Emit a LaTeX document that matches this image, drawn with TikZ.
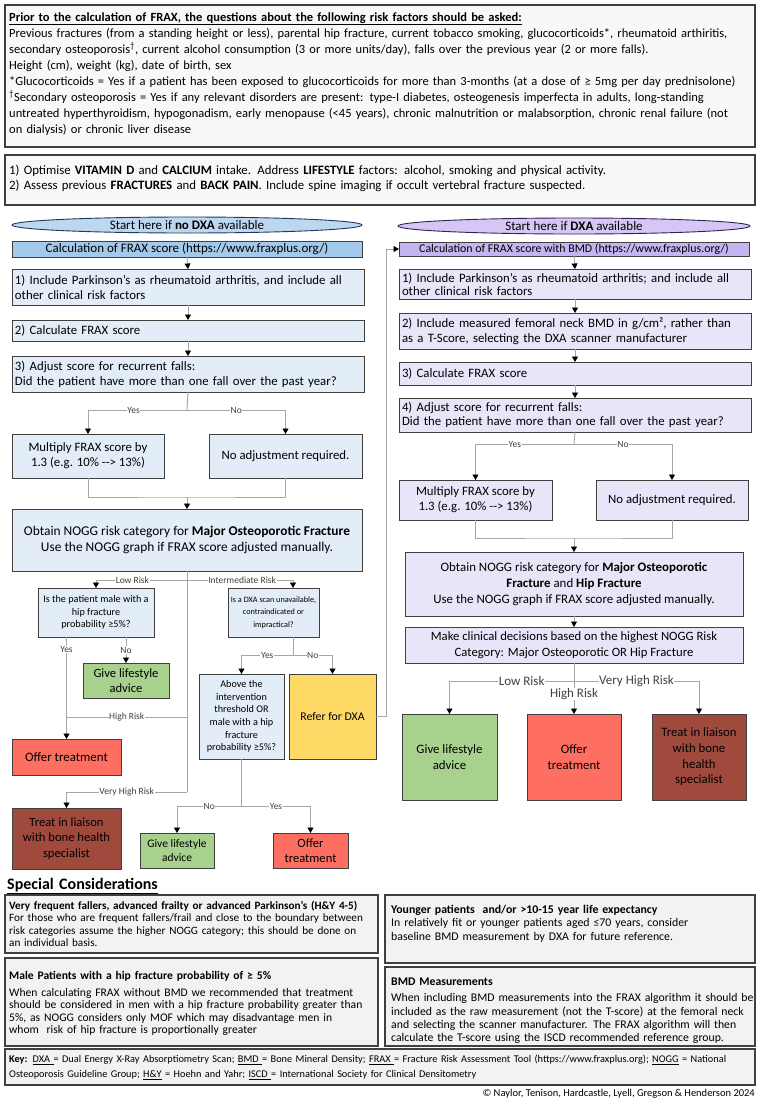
\documentclass[tikz,border=0pt]{standalone}
\usepackage{fontspec}
\setmainfont{Carlito}
\usetikzlibrary{arrows.meta,shapes.geometric,calc}
\definecolor{boxline}{HTML}{404040}
\definecolor{topfill}{HTML}{F8F8F8}
\definecolor{specfill}{HTML}{F2F2F2}
\definecolor{bluehdr}{HTML}{A4CAEB}
\definecolor{blueell}{HTML}{BDD7EE}
\definecolor{bluestep}{HTML}{E2EDF8}
\definecolor{ellblue}{HTML}{1F3864}
\definecolor{purphdr}{HTML}{C5B4F2}
\definecolor{purpell}{HTML}{D5C6F6}
\definecolor{purpstep}{HTML}{E9E5F9}
\definecolor{ellpurp}{HTML}{2E2452}
\definecolor{gfill}{HTML}{A9D18E}
\definecolor{rfill}{HTML}{FF6F61}
\definecolor{bfill}{HTML}{A04A3E}
\definecolor{yfill}{HTML}{FFD966}
\definecolor{cline}{HTML}{A6A6A6}
\definecolor{lbltext}{HTML}{404040}
\newcommand\fs[2]{\fontsize{#1}{#2}\selectfont}
% left-aligned box with text width
\newcommand\bx[7]{%
  \pgfmathsetmacro\bxw{(#5)-(#3)}%
  \pgfmathsetmacro\bxh{(#6)-(#4)}%
  \pgfmathsetmacro\bxt{(#5)-(#3)-4}%
  \node[box,#2,anchor=north west,minimum width=\bxw pt,minimum height=\bxh pt,text width=\bxt pt] (#1) at (#3,#4) {#7};}
% centred box, lines broken by hand
\newcommand\bc[7]{%
  \pgfmathsetmacro\bxw{(#5)-(#3)}%
  \pgfmathsetmacro\bxh{(#6)-(#4)}%
  \node[box,#2,align=center,inner xsep=0pt,anchor=north west,minimum width=\bxw pt,minimum height=\bxh pt] (#1) at (#3,#4) {#7};}
\begin{document}
\begin{tikzpicture}[x=1pt,y=-1pt,
  box/.style={draw=boxline,line width=1pt,outer sep=0pt,inner xsep=2pt,inner ysep=0pt},
  bigbox/.style={draw=boxline,line width=1.4pt,outer sep=0pt,inner sep=0pt},
  txt/.style={anchor=base west,inner sep=0pt,align=left},
  lstep/.style={fill=bluestep,align=left,font=\fs{12.8}{14.8}},
  rstep/.style={fill=purpstep,align=left,font=\fs{12.8}{14.8}},
  padl/.style={inner xsep=3pt},
  qbox/.style={fill=bluestep,font=\fs{10.2}{12.5}},
  green/.style={fill=gfill},
  red/.style={fill=rfill},
  brown/.style={fill=bfill},
  conn/.style={draw=cline,line width=0.9pt},
  arr/.style={conn,-{Triangle[length=5.5pt,width=6pt,color=black]}},
  lbl/.style={fill=white,inner sep=0.6pt,text=lbltext,font=\fs{9.5}{10}},
  lblR/.style={fill=white,inner sep=0.6pt,text=lbltext,font=\fs{13}{14}},
  ell/.style={ellipse,line width=0.9pt,minimum height=16pt,inner sep=0pt,font=\fs{13}{14}}
]
\useasboundingbox[fill=white] (0,0) rectangle (761,1101);

% ---------- top boxes ----------
\node[bigbox,fill=topfill,anchor=north west,minimum width=750pt,minimum height=142pt] (T) at (5,5) {};
\node[txt,text width=745pt,font=\fs{12.5}{16.05}] (Tt) at ($(T.north west)+(4,16)$) {%
\underline{\textbf{Prior to the calculation of FRAX, the questions about the following risk factors should be asked:}}\\
Previous fractures (from a standing height or less), parental hip fracture, current tobacco smoking, glucocorticoids*, rheumatoid arthiritis,\\
secondary osteoporosis\textsuperscript{†}, current alcohol consumption (3 or more units/day), falls over the previous year (2 or more falls).\\
Height (cm), weight (kg), date of birth, sex\\\relax
*Glucocorticoids = Yes if a patient has been exposed to glucocorticoids for more than 3-months (at a dose of ≥ 5mg per day prednisolone)\\
\textsuperscript{†}Secondary osteoporosis = Yes if any relevant disorders are present: type-I diabetes, osteogenesis imperfecta in adults, long-standing\\
untreated hyperthyroidism, hypogonadism, early menopause (<45 years), chronic malnutrition or malabsorption, chronic renal failure (not\\
on dialysis) or chronic liver disease};

\node[bigbox,fill=topfill,anchor=north west,minimum width=750pt,minimum height=50pt] (B) at (5,155) {};
\node[txt,text width=745pt,font=\fs{12.8}{15}] (Bt) at ($(B.north west)+(4,19)$) {%
1) Optimise \textbf{VITAMIN D} and \textbf{CALCIUM} intake. Address \textbf{LIFESTYLE} factors: alcohol, smoking and physical activity.\\
2) Assess previous \textbf{FRACTURES} and \textbf{BACK PAIN}. Include spine imaging if occult vertebral fracture suspected.};

% ---------- left column ----------
\node[ell,draw=ellblue,fill=blueell,minimum width=350pt] (L0) at (187,225) {Start here if \textbf{no DXA} available};
\bc{L1}{fill=bluehdr,font=\fs{13}{14}}{12}{241}{362}{257}{Calculation of FRAX score (https://www.fraxplus.org/)}
\bx{L2}{lstep,padl}{12}{269}{362}{305}{1) Include Parkinson's as rheumatoid arthritis, and include all\\ other clinical risk factors}
\bx{L3}{lstep,padl}{12}{320}{362}{341}{2) Calculate FRAX score}
\bx{L4}{lstep,padl}{12}{356}{362}{392}{3) Adjust score for recurrent falls:\\ Did the patient have more than one fall over the past year?}
\bc{L5}{lstep}{12}{434}{164}{478}{Multiply FRAX score by\\ 1.3 (e.g. 10\% -{}-{}> 13\%)}
\bc{L6}{lstep}{209}{434}{362}{478}{No adjustment required.}
\bc{L7}{fill=bluestep,font=\fs{13.4}{16.5}}{12}{509}{362}{571}{Obtain NOGG risk category for \textbf{Major Osteoporotic Fracture}\\ Use the NOGG graph if FRAX score adjusted manually.}
\bc{L8}{qbox}{38}{588}{154}{637}{Is the patient male with a\\ hip fracture\\ probability ≥5\%?}
\bc{L9}{qbox,font=\fs{8.2}{12.5}}{228}{588}{319}{637}{Is a DXA scan unavailable,\\ contraindicated or\\ impractical?}
\bc{L10}{green,font=\fs{12.6}{15}}{83}{663}{169}{698}{Give lifestyle\\ advice}
\bc{L11}{qbox,font=\fs{10.2}{12.7}}{199}{674}{284}{759}{Above the\\ intervention\\ threshold OR\\ male with a hip\\ fracture\\ probability ≥5\%?}
\bc{L12}{fill=yfill,font=\fs{11.8}{14}}{289}{674}{376}{759}{Refer for DXA}
\bc{L13}{red,font=\fs{12.9}{15}}{12}{739}{121}{775}{Offer treatment}
\bc{L14}{brown,font=\fs{12.6}{15.7}}{12}{808}{121}{869}{Treat in liaison\\ with bone health\\ specialist}
\bc{L15}{green,font=\fs{11.5}{14.5}}{140}{833}{214}{868}{Give lifestyle\\ advice}
\bc{L16}{red,font=\fs{12.6}{15}}{273}{833}{348}{868}{Offer\\ treatment}

\draw[arr] (L1.south) -- (L2.north);
\draw[arr] (L2.south) -- (L3.north);
\draw[arr] (L3.south) -- (L4.north);
\coordinate (j1) at (187,410);
\draw[conn] (L4.south) -- (j1);
\draw[arr] (j1) -| node[lbl,pos=.27]{Yes} (L5.north);
\draw[arr] (j1) -| node[lbl,pos=.25]{No} (L6.north);
\coordinate (j2) at (187,497);
\draw[conn] (L5.south) |- (j2) -| (L6.south);
\draw[arr] (j2) -- (L7.north);
\coordinate (j3) at (187,580);
\draw[conn] (L7.south) -- (j3);
\draw[arr] (j3) -| node[lbl,pos=.3]{Low Risk} (L8.north);
\coordinate (L9in) at ($(L9.north west)+(65,0)$);
\coordinate (L9out) at ($(L9.south west)+(65,0)$);
\draw[arr] (j3) -| node[lbl,pos=.26]{Intermediate Risk} (L9in);
\draw[arr] (L8.south -| L13.north) -- node[lbl,pos=.12]{Yes} (L13.north);
\draw[arr] (L8.south -| L10.north) -- node[lbl]{No} (L10.north);
\coordinate (j4) at (187,717);
\coordinate (j5) at (187,792);
\draw[conn] (j3) -- (j5);
\draw[conn] (j4) -- node[lbl]{High Risk} (j4 -| L13.north);
\draw[arr] (j5) -| node[lbl,pos=.25]{Very High Risk} (L14.north);
\coordinate (j6) at (293,655);
\draw[conn] (L9out) -- (j6);
\draw[arr] (j6) -| node[lbl,pos=.25]{Yes} (L11.north);
\draw[arr] (j6) -| node[lbl,pos=.25]{No} (L12.north);
\coordinate (j7) at (241.5,806);
\draw[conn] (L11.south) -- (j7);
\draw[arr] (j7) -| node[lbl,pos=.25]{No} (L15.north);
\draw[arr] (j7) -| node[lbl,pos=.25]{Yes} (L16.north);

% ---------- right column ----------
\node[ell,draw=ellpurp,fill=purpell,minimum width=352pt] (R0) at (574,226) {Start here if \textbf{DXA} available};
\bc{R1}{fill=purphdr,font=\fs{11.9}{13}}{399}{242}{749}{256}{Calculation of FRAX score with BMD (https://www.fraxplus.org/)}
\bx{R2}{rstep,padl,font=\fs{12.8}{13.2}}{399}{269}{749}{299}{1) Include Parkinson's as rheumatoid arthritis; and include all\\ other clinical risk factors}
\bx{R3}{rstep,padl}{399}{313}{749}{349}{2) Include measured femoral neck BMD in g/cm², rather than\\ as a T-Score, selecting the DXA scanner manufacturer}
\bx{R4}{rstep,padl}{399}{362}{749}{385}{3) Calculate FRAX score}
\bx{R5}{rstep,padl,font=\fs{12.8}{14.2}}{399}{398}{749}{432}{4) Adjust score for recurrent falls:\\ Did the patient have more than one fall over the past year?}
\bc{R6}{rstep}{399}{480}{552}{520}{Multiply FRAX score by\\ 1.3 (e.g. 10\% -{}-{}> 13\%)}
\bc{R7}{rstep}{596}{480}{748}{520}{No adjustment required.}
\bc{R8}{fill=purpstep,font=\fs{12.9}{16}}{405}{552}{743}{616}{Obtain NOGG risk category for \textbf{Major Osteoporotic}\\ \textbf{Fracture} and \textbf{Hip Fracture}\\ Use the NOGG graph if FRAX score adjusted manually.}
\bc{R9}{fill=purpstep,font=\fs{12.7}{16}}{405}{627}{743}{663}{Make clinical decisions based on the highest NOGG Risk\\ Category: Major Osteoporotic OR Hip Fracture}
\bc{R10}{green,font=\fs{12.8}{15.7}}{402}{714}{497}{800}{Give lifestyle\\ advice}
\bc{R11}{red,font=\fs{12.8}{15.7}}{527}{714}{621}{800}{Offer\\ treatment}
\bc{R12}{brown,font=\fs{12.8}{15.7}}{652}{714}{746}{800}{Treat in liaison\\ with bone\\ health\\ specialist}

\draw[arr] (L12.east) -- ++(10,0) |- (R1.west);
\draw[arr] (R1.south) -- (R2.north);
\draw[arr] (R2.south) -- (R3.north);
\draw[arr] (R3.south) -- (R4.north);
\draw[arr] (R4.south) -- (R5.north);
\coordinate (k1) at (574,444);
\draw[conn] (R5.south) -- (k1);
\draw[arr] (k1) -| node[lbl,pos=.3]{Yes} (R6.north);
\draw[arr] (k1) -| node[lbl,pos=.25]{No} (R7.north);
\coordinate (k2) at (574,538);
\draw[conn] (R6.south) |- (k2) -| (R7.south);
\draw[arr] (k2) -- (R8.north);
\draw[arr] (R8.south) -- (R9.north);
\coordinate (k3) at (574,681);
\draw[arr] (R9.south) -- node[lblR,pos=.61]{High Risk} (R11.north);
\draw[arr] (k3) -| node[lblR,pos=.21]{Low Risk} (R10.north);
\draw[arr] (k3) -| node[lblR,pos=.25]{Very High Risk} (R12.north);

% ---------- special considerations ----------
\node[txt,text width=300pt,font=\fs{16}{18}\bfseries] (SC) at (7,889) {\underline{Special Considerations}};
\node[bigbox,fill=specfill,anchor=north west,minimum width=373pt,minimum height=58pt] (S1) at (5,895) {};
\node[txt,text width=369pt,font=\fs{11.2}{12.4}] (S1t) at ($(S1.north west)+(4,14.5)$) {%
\textbf{Very frequent fallers, advanced frailty or advanced Parkinson's (H\&Y 4-5)}\\
For those who are frequent fallers/frail and close to the boundary between\\
risk categories assume the higher NOGG category; this should be done on\\
an individual basis.};
\node[bigbox,fill=specfill,anchor=north west,minimum width=373pt,minimum height=88pt] (S2) at (5,958) {};
\node[txt,text width=369pt,font=\fs{11.6}{12.4}] (S2t) at ($(S2.north west)+(4,21.5)$) {%
\textbf{Male Patients with a hip fracture probability of ≥ 5\%}\\[4.3pt]
When calculating FRAX without BMD we recommended that treatment\\
should be considered in men with a hip fracture probability greater than\\
5\%, as NOGG considers only MOF which may disadvantage men in\\
whom \ risk of hip fracture is proportionally greater};
\node[bigbox,fill=specfill,anchor=north west,minimum width=370pt,minimum height=68pt] (S3) at (385,895) {};
\node[txt,text width=366pt,font=\fs{11.8}{13.6}] (S3t) at ($(S3.north west)+(6,18)$) {%
\textbf{Younger patients \ and/or >10-15 year life expectancy}\\
In relatively fit or younger patients aged ≤70 years, consider\\
baseline BMD measurement by DXA for future reference.};
\node[bigbox,fill=specfill,anchor=north west,minimum width=370pt,minimum height=79pt] (S4) at (385,967) {};
\node[txt,text width=366pt,font=\fs{11.75}{13.4}] (S4t) at ($(S4.north west)+(6,18)$) {%
\textbf{BMD Measurements}\\[3.3pt]
When including BMD measurements into the FRAX algorithm it should be\\
included as the raw measurement (not the T-score) at the femoral neck\\
and selecting the scanner manufacturer. The FRAX algorithm will then\\
calculate the T-score using the ISCD recommended reference group.};
\node[bigbox,fill=specfill,anchor=north west,minimum width=750pt,minimum height=36pt] (K) at (5,1049) {};
\node[txt,text width=745pt,font=\fs{10.3}{15}] (Kt) at ($(K.north west)+(4,13.5)$) {%
\textbf{Key:} \underline{DXA }= Dual Energy X-Ray Absorptiometry Scan; \underline{BMD }= Bone Mineral Density; \underline{FRAX }= Fracture Risk Assessment Tool (https://www.fraxplus.org); \underline{NOGG} = National\\
Osteoporosis Guideline Group; \underline{H\&Y} = Hoehn and Yahr; \underline{ISCD }= International Society for Clinical Densitometry};
\node[anchor=base east,inner sep=0pt,font=\fs{10.5}{11}] (C) at (755,1096) {© Naylor, Tenison, Hardcastle, Lyell, Gregson \& Henderson 2024};
\end{tikzpicture}
\end{document}
